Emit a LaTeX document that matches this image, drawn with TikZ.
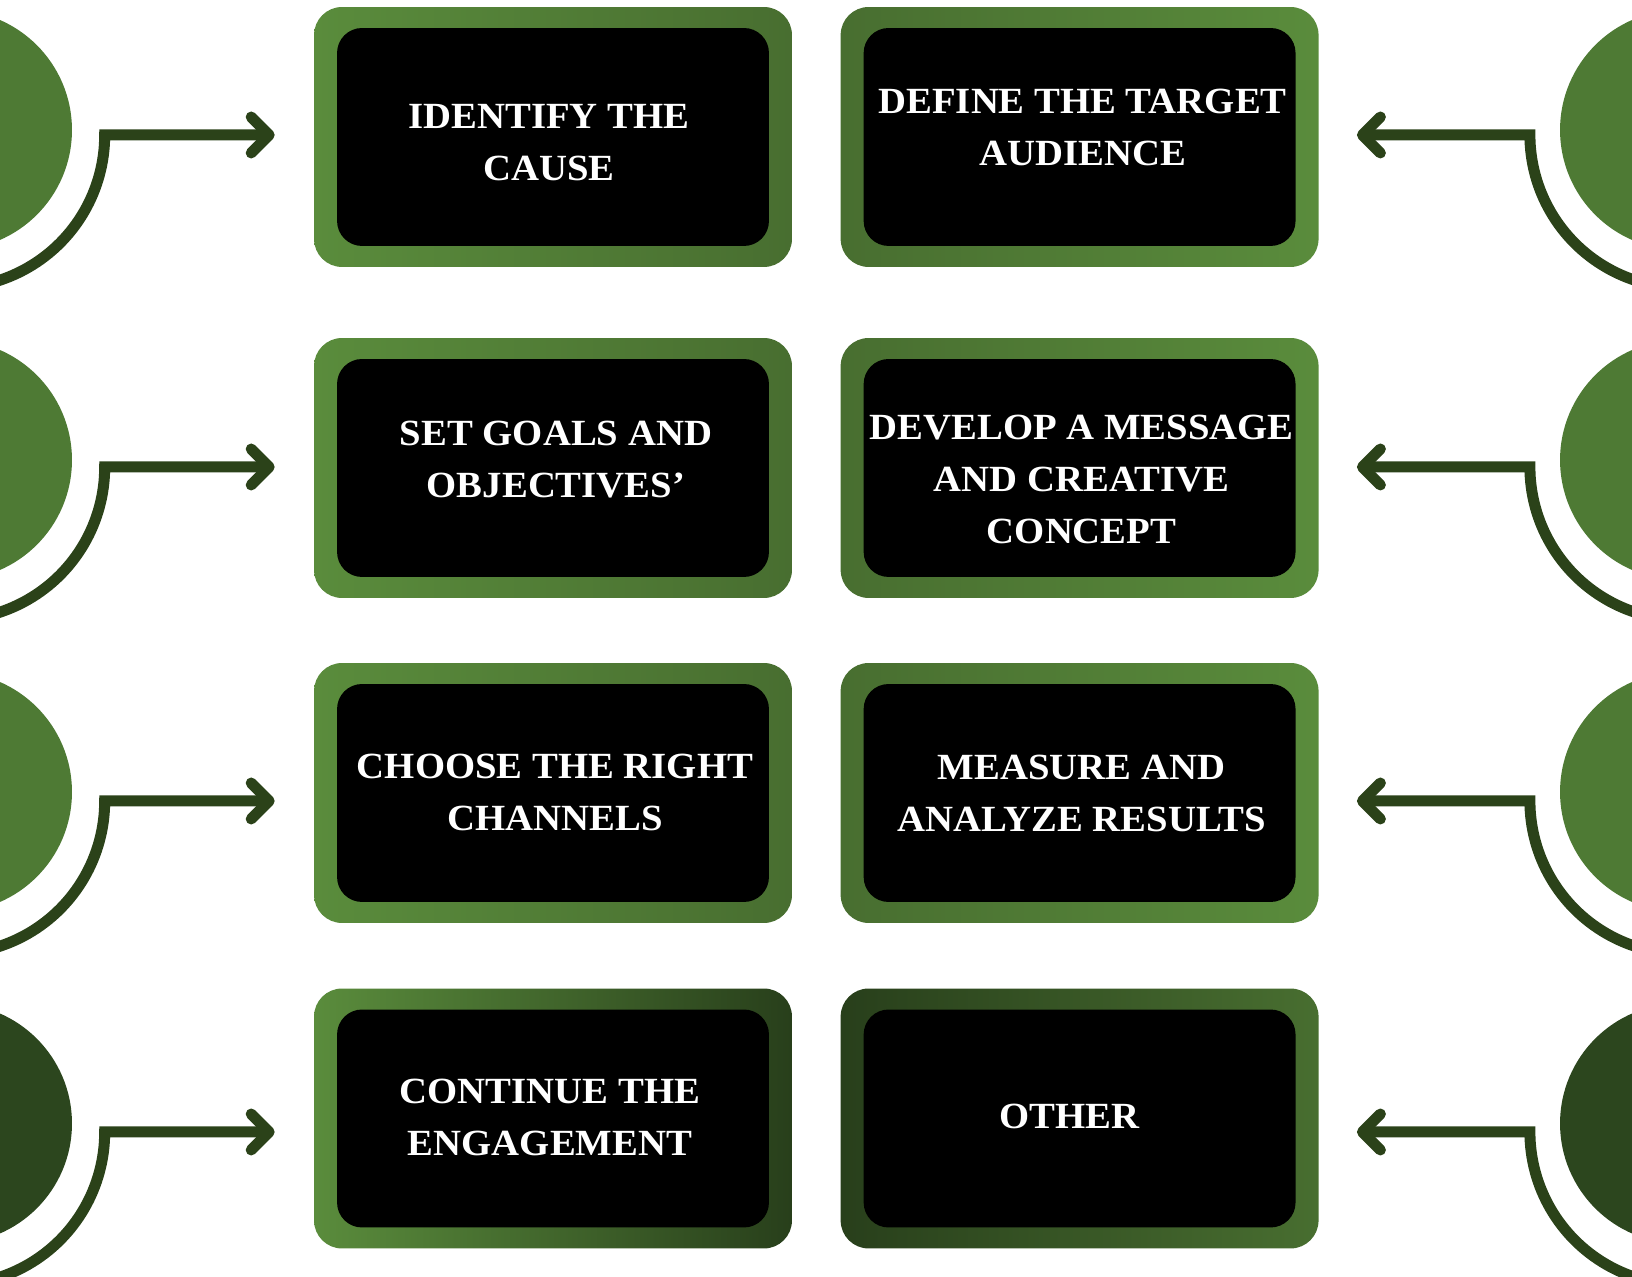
\documentclass[tikz,border=0pt]{standalone}
\usepackage{fontspec}
\setmainfont[FakeStretch=1.05]{Liberation Serif}
\usepackage{tikz}
\usetikzlibrary{positioning,calc,arrows.meta}

\definecolor{leaf}{RGB}{90,140,60}
\definecolor{moss}{RGB}{72,110,48}
\definecolor{forest}{RGB}{40,63,27}
\definecolor{dotgreen}{RGB}{78,122,52}
\definecolor{dotdark}{RGB}{44,70,30}
\definecolor{stem}{RGB}{43,66,25}

\tikzset{
  stepframe/.style={rounded corners=0.56cm, minimum width=9.56cm, minimum height=5.2cm, inner sep=0pt},
  stepcore/.style={fill=black, rounded corners=0.5cm, minimum width=8.64cm, minimum height=4.36cm, inner sep=0pt},
  steptext/.style={text=white, align=center, inner sep=0pt, font=\bfseries\fontsize{21}{29.6}\selectfont},
  dot/.style={circle, minimum size=4.8cm, inner sep=0pt},
  flow/.style={draw=stem, line width=0.22cm, {Straight Barb[length=0.36cm,width=0.72cm,round]}-}
}

\begin{document}
\begin{tikzpicture}[x=0.02cm,y=0.02cm]
        \useasboundingbox (0,0) rectangle (1632,1277);
        \clip (0,0) rectangle (1632,1277);

        % step frames
        \node[stepframe, left color=leaf, right color=moss] (cause) at (553,1140) {};
        \node[stepframe, left color=moss, right color=leaf, right=0.96cm of cause] (audience) {};
        \node[stepframe, left color=leaf, right color=moss] (goals) at (553,809) {};
        \node[stepframe, left color=moss, right color=leaf, right=0.96cm of goals] (concept) {};
        \node[stepframe, left color=leaf, right color=moss] (channels) at (553,484) {};
        \node[stepframe, left color=moss, right color=leaf, right=0.96cm of channels] (measure) {};
        \node[stepframe, left color=leaf, right color=forest] (engage) at (553,158.5) {};
        \node[stepframe, left color=forest, right color=moss, right=0.96cm of engage] (other) {};

        \node[stepcore] (cause-in) at (cause.center) {};
        \node[stepcore] (audience-in) at (audience.center) {};
        \node[stepcore] (goals-in) at (goals.center) {};
        \node[stepcore] (concept-in) at (concept.center) {};
        \node[stepcore] (channels-in) at (channels.center) {};
        \node[stepcore] (measure-in) at (measure.center) {};
        \node[stepcore] (engage-in) at (engage.center) {};
        \node[stepcore] (other-in) at (other.center) {};

        \node[steptext] (cause-t) at ([shift={(-4,-6)}]cause-in.center) {IDENTIFY THE\\CAUSE};
        \node[steptext] (audience-t) at ([shift={(3,10)}]audience-in.center) {DEFINE THE TARGET\\AUDIENCE};
        \node[steptext] (goals-t) at ([shift={(3,8)}]goals-in.center) {SET GOALS AND\\OBJECTIVES’};
        \node[steptext] (concept-t) at ([shift={(2,-11)}]concept-in.center) {DEVELOP A MESSAGE\\AND CREATIVE\\CONCEPT};
        \node[steptext] (channels-t) at ([shift={(2,1)}]channels-in.center) {CHOOSE THE RIGHT\\CHANNELS};
        \node[steptext] (measure-t) at ([shift={(2,0)}]measure-in.center) {MEASURE AND\\ANALYZE RESULTS};
        \node[steptext] (engage-t) at ([shift={(-3,1)}]engage-in.center) {CONTINUE THE\\ENGAGEMENT};
        \node[steptext] (other-t) at ([shift={(-10,2)}]other-in.center) {OTHER};

        % side dots
        \node[dot, fill=dotgreen] (dl1) at (-48,1147) {};
        \node[dot, fill=dotgreen] (dl2) at (-48,817) {};
        \node[dot, fill=dotgreen] (dl3) at (-48,485) {};
        \node[dot, fill=dotdark] (dl4) at (-48,153.5) {};
        \node[dot, fill=dotgreen] (dr1) at (1680,1147) {};
        \node[dot, fill=dotgreen] (dr2) at (1680,817) {};
        \node[dot, fill=dotgreen] (dr3) at (1680,485) {};
        \node[dot, fill=dotdark] (dr4) at (1680,153.5) {};

        % connectors
        \draw[flow] ([shift={(-39,2)}]cause.west) -- ++(-170,0) arc[start angle=0, end angle=-110, radius=153];
        \draw[flow] ([shift={(-39,1)}]goals.west) -- ++(-170,0) arc[start angle=0, end angle=-110, radius=153];
        \draw[flow] ([shift={(-39,-8)}]channels.west) -- ++(-170,0) arc[start angle=0, end angle=-110, radius=153];
        \draw[flow] ([shift={(-39,-13.5)}]engage.west) -- ++(-170,0) arc[start angle=0, end angle=-110, radius=153];

        \draw[flow] ([shift={(38,2)}]audience.east) -- ++(173,0) arc[start angle=180, end angle=290, radius=153];
        \draw[flow] ([shift={(38,1)}]concept.east) -- ++(173,0) arc[start angle=180, end angle=290, radius=153];
        \draw[flow] ([shift={(38,-8)}]measure.east) -- ++(173,0) arc[start angle=180, end angle=290, radius=153];
        \draw[flow] ([shift={(38,-13.5)}]other.east) -- ++(173,0) arc[start angle=180, end angle=290, radius=153];
\end{tikzpicture}
\end{document}
